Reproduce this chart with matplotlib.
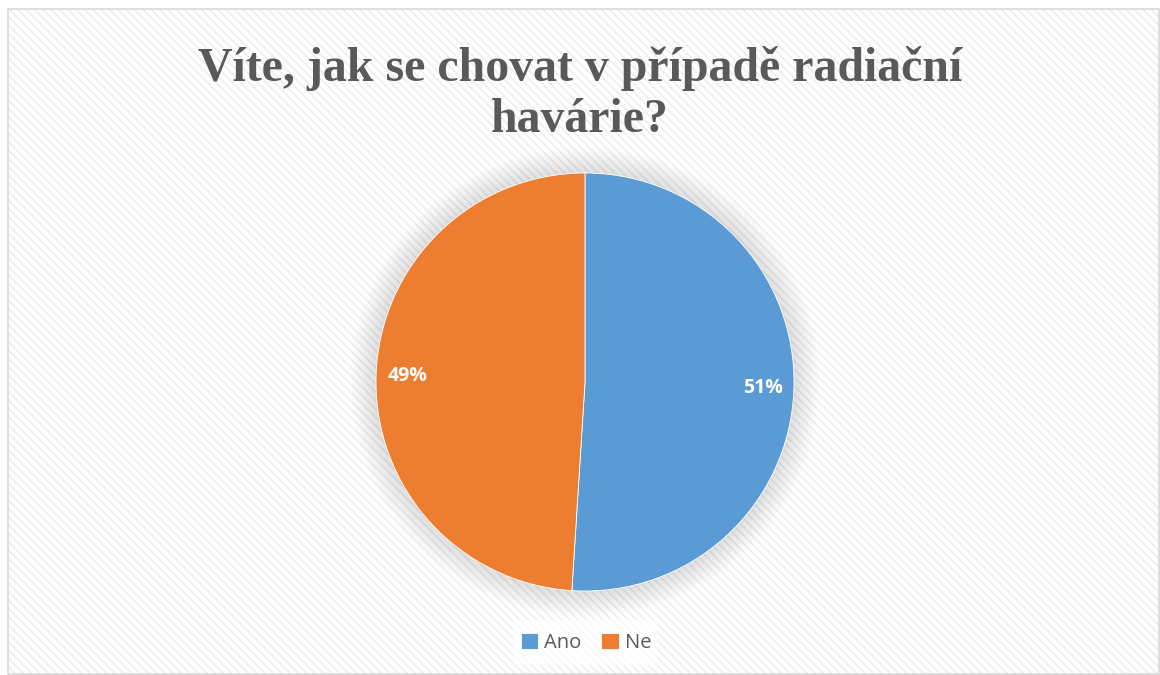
import matplotlib
matplotlib.use("Agg")
import matplotlib.pyplot as plt
from matplotlib.patches import Rectangle, Circle

categories = ["Ano", "Ne"]
values = [51, 49]
colors = ["#5B9BD5", "#ED7D31"]
title = "Víte, jak se chovat v případě radiační\nhavárie?"

W, H = 1160, 675
fig = plt.figure(figsize=(W / 100, H / 100), dpi=100)
fig.patch.set_facecolor("white")

# background with diagonal stripes
bg = fig.add_axes([0, 0, 1, 1])
bg.set_xlim(0, W)
bg.set_ylim(H, 0)
bg.axis("off")
plt.rcParams["hatch.linewidth"] = 1.2
bg.add_patch(Rectangle((8, 9), W - 8, H - 9, facecolor="white", edgecolor="#eeeeee",
                       hatch="\\\\\\\\", linewidth=0))
bg.add_patch(Rectangle((8, 9), W - 9, H - 10, facecolor="none", edgecolor="#d9d9d9",
                       linewidth=1.2))
# legend box background
bg.add_patch(Rectangle((513, 620), 144, 45, facecolor="white", edgecolor="none", alpha=0.8))

# pie axes
cx, cy, r = 585, 382, 209
ax = fig.add_axes([(cx - r) / W, (H - cy - r) / H, 2 * r / W, 2 * r / H])
ax.set_xlim(-1.0, 1.0)
ax.set_ylim(-1.0, 1.0)
ax.set_aspect("equal")
ax.axis("off")
# soft shadow
for i in range(10):
    ax.add_patch(Circle((0, -0.0), 1.0 + 0.012 * (i + 1), facecolor="#000000",
                        alpha=0.01, edgecolor="none", clip_on=False, zorder=0))
wedges, texts, autotexts = ax.pie(
    values, colors=colors, startangle=90, counterclock=False, radius=1.0,
    autopct="%d%%", pctdistance=0.85,
    wedgeprops=dict(edgecolor="white", linewidth=0.6),
    textprops=dict(color="white", fontsize=14, fontweight="bold", family="Open Sans"))
for w in wedges:
    w.set_zorder(2)
ax.set_xlim(-1.0, 1.0)
ax.set_ylim(-1.0, 1.0)

fig.text(0.5, (H - 94) / H, title, ha="center", va="center", family="Liberation Serif",
         fontweight="bold", fontsize=34.5, color="#595959", linespacing=1.2)

leg = fig.legend(wedges, categories, loc="center", bbox_to_anchor=(586 / W, (H - 643) / H),
                 ncol=2, frameon=False, handlelength=0.85, handleheight=0.85,
                 handletextpad=0.3, columnspacing=1.0,
                 prop=dict(family="Open Sans", size=14.5))
for t in leg.get_texts():
    t.set_color("#595959")

fig.savefig("out.png", dpi=100)
